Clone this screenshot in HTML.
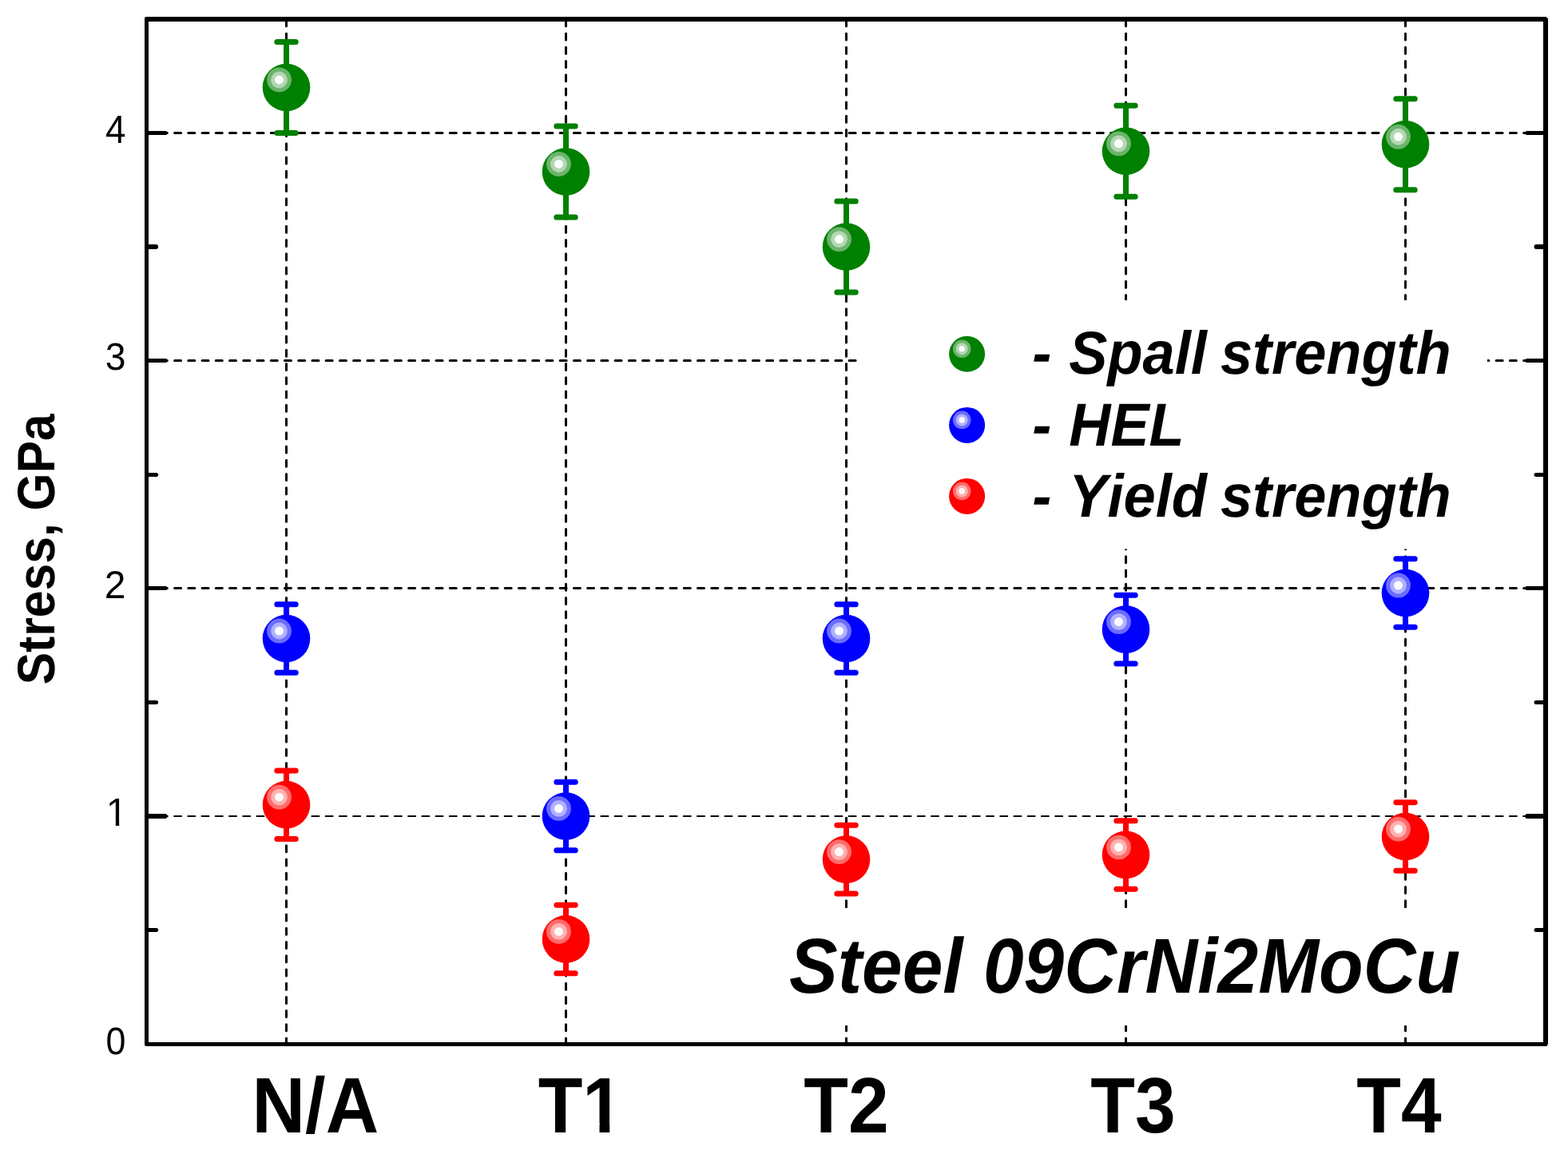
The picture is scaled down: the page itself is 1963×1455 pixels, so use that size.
<!DOCTYPE html>
<html lang="en"><head><meta charset="utf-8"><title>Steel 09CrNi2MoCu - Stress, GPa</title>
<style>html,body{margin:0;padding:0;background:#fff}body{width:1963px;height:1455px;overflow:hidden}svg{display:block}text{font-family:"Liberation Sans",Arial,Helvetica,sans-serif;fill:#000;font-kerning:none;font-feature-settings:"kern" 0,"liga" 0;text-rendering:geometricPrecision}.tk{font-size:49.5px}.yl{font-size:66px;font-weight:700}.cat{font-size:98.5px;font-weight:700}.lg{font-size:76px;font-weight:700;font-style:italic}.st{font-size:97.5px;font-weight:700;font-style:italic}</style></head><body>
<svg width="1963" height="1455" viewBox="0 0 1963 1455">
<rect width="1963" height="1455" fill="#fff"/>
<g stroke="#000" stroke-width="3" stroke-dasharray="8.000 9.235" stroke-linecap="round" fill="none">
<line x1="358.50" y1="24.70" x2="358.50" y2="1307.50"/>
<line x1="708.50" y1="24.70" x2="708.50" y2="1307.50"/>
<line x1="1059.50" y1="24.70" x2="1059.50" y2="1307.50"/>
<line x1="1409.50" y1="24.70" x2="1409.50" y2="1307.50"/>
<line x1="1759.50" y1="24.70" x2="1759.50" y2="1307.50"/>
<line x1="184.10" y1="166.50" x2="1935.00" y2="166.50"/>
<line x1="184.10" y1="451.50" x2="1935.00" y2="451.50"/>
<line x1="184.10" y1="736.50" x2="1935.00" y2="736.50"/>
<line x1="183.60" y1="1022.00" x2="1935.00" y2="1022.00" stroke-width="2" stroke-dasharray="9.000 8.235"/>
</g>
<rect x="1075" y="376" width="787" height="311.5" fill="#fff"/>
<rect x="975" y="1137" width="865" height="147" fill="#fff"/>
<g stroke="#000" stroke-width="5" stroke-linecap="round">
<line x1="185.0" y1="166.50" x2="207.10" y2="166.50"/>
<line x1="1933.5" y1="166.50" x2="1911.70" y2="166.50"/>
<line x1="185.0" y1="451.50" x2="207.10" y2="451.50"/>
<line x1="1933.5" y1="451.50" x2="1911.70" y2="451.50"/>
<line x1="185.0" y1="736.50" x2="207.10" y2="736.50"/>
<line x1="1933.5" y1="736.50" x2="1911.70" y2="736.50"/>
<line x1="185.0" y1="1022.00" x2="206.60" y2="1022.00" stroke-width="6"/>
<line x1="1933.5" y1="1022.00" x2="1912.20" y2="1022.00" stroke-width="6"/>
<line x1="185.0" y1="309.00" x2="195.10" y2="309.00" stroke-width="6"/>
<line x1="1933.5" y1="309.00" x2="1923.50" y2="309.00" stroke-width="6"/>
<line x1="185.0" y1="594.50" x2="195.60" y2="594.50"/>
<line x1="1933.5" y1="594.50" x2="1923.00" y2="594.50"/>
<line x1="185.0" y1="879.50" x2="195.60" y2="879.50"/>
<line x1="1933.5" y1="879.50" x2="1923.00" y2="879.50"/>
<line x1="185.0" y1="1164.50" x2="195.60" y2="1164.50"/>
<line x1="1933.5" y1="1164.50" x2="1923.00" y2="1164.50"/>
</g>
<g shape-rendering="crispEdges" fill="#000"><rect x="181" y="21" width="5" height="1289"/><rect x="1932" y="21" width="6" height="1289"/><rect x="181" y="21" width="1757" height="6"/><rect x="181" y="1305" width="1757" height="5"/><g fill="#fff"><rect x="181" y="21" width="1" height="1"/><rect x="1936" y="21" width="2" height="1"/><rect x="1937" y="22" width="1" height="1"/><rect x="1937" y="1308" width="1" height="2"/><rect x="181" y="1309" width="1" height="1"/></g></g>
<g stroke="#008000" stroke-width="7.0" stroke-linecap="round" fill="none">
<path d="M358.50 52.45V166.51M346.80 52.45H370.20M346.80 166.51H370.20"/>
<path d="M708.50 157.96V272.01M696.80 157.96H720.20M696.80 272.01H720.20"/>
<path d="M1059.50 252.05V366.11M1047.80 252.05H1071.20M1047.80 366.11H1071.20"/>
<path d="M1409.50 132.29V246.35M1397.80 132.29H1421.20M1397.80 246.35H1421.20"/>
<path d="M1759.50 123.74V237.80M1747.80 123.74H1771.20M1747.80 237.80H1771.20"/>
</g>
<g>
<circle cx="358.50" cy="109.48" r="29.80" fill="#008000"/><circle cx="349.50" cy="99.98" r="15.40" fill="#6cb46c"/><circle cx="349.50" cy="99.98" r="10.40" fill="#b2d8b2"/><circle cx="349.50" cy="99.98" r="5.50" fill="#fafdfa"/>
<circle cx="708.50" cy="214.98" r="29.80" fill="#008000"/><circle cx="699.50" cy="205.48" r="15.40" fill="#6cb46c"/><circle cx="699.50" cy="205.48" r="10.40" fill="#b2d8b2"/><circle cx="699.50" cy="205.48" r="5.50" fill="#fafdfa"/>
<circle cx="1059.50" cy="309.08" r="29.80" fill="#008000"/><circle cx="1050.50" cy="299.58" r="15.40" fill="#6cb46c"/><circle cx="1050.50" cy="299.58" r="10.40" fill="#b2d8b2"/><circle cx="1050.50" cy="299.58" r="5.50" fill="#fafdfa"/>
<circle cx="1409.50" cy="189.32" r="29.80" fill="#008000"/><circle cx="1400.50" cy="179.82" r="15.40" fill="#6cb46c"/><circle cx="1400.50" cy="179.82" r="10.40" fill="#b2d8b2"/><circle cx="1400.50" cy="179.82" r="5.50" fill="#fafdfa"/>
<circle cx="1759.50" cy="180.77" r="29.80" fill="#008000"/><circle cx="1750.50" cy="171.27" r="15.40" fill="#6cb46c"/><circle cx="1750.50" cy="171.27" r="10.40" fill="#b2d8b2"/><circle cx="1750.50" cy="171.27" r="5.50" fill="#fafdfa"/>
</g>
<g stroke="#0000ff" stroke-width="7.0" stroke-linecap="round" fill="none">
<path d="M358.50 756.75V842.29M346.80 756.75H370.20M346.80 842.29H370.20"/>
<path d="M708.50 979.16V1064.70M696.80 979.16H720.20M696.80 1064.70H720.20"/>
<path d="M1059.50 756.75V842.29M1047.80 756.75H1071.20M1047.80 842.29H1071.20"/>
<path d="M1409.50 745.34V830.89M1397.80 745.34H1421.20M1397.80 830.89H1421.20"/>
<path d="M1759.50 699.72V785.26M1747.80 699.72H1771.20M1747.80 785.26H1771.20"/>
</g>
<g>
<circle cx="358.50" cy="799.52" r="29.80" fill="#0000ff"/><circle cx="349.50" cy="790.02" r="15.40" fill="#6c6cff"/><circle cx="349.50" cy="790.02" r="10.40" fill="#b0b0ff"/><circle cx="349.50" cy="790.02" r="5.50" fill="#fafaff"/>
<circle cx="708.50" cy="1021.93" r="29.80" fill="#0000ff"/><circle cx="699.50" cy="1012.43" r="15.40" fill="#6c6cff"/><circle cx="699.50" cy="1012.43" r="10.40" fill="#b0b0ff"/><circle cx="699.50" cy="1012.43" r="5.50" fill="#fafaff"/>
<circle cx="1059.50" cy="799.52" r="29.80" fill="#0000ff"/><circle cx="1050.50" cy="790.02" r="15.40" fill="#6c6cff"/><circle cx="1050.50" cy="790.02" r="10.40" fill="#b0b0ff"/><circle cx="1050.50" cy="790.02" r="5.50" fill="#fafaff"/>
<circle cx="1409.50" cy="788.12" r="29.80" fill="#0000ff"/><circle cx="1400.50" cy="778.62" r="15.40" fill="#6c6cff"/><circle cx="1400.50" cy="778.62" r="10.40" fill="#b0b0ff"/><circle cx="1400.50" cy="778.62" r="5.50" fill="#fafaff"/>
<circle cx="1759.50" cy="742.49" r="29.80" fill="#0000ff"/><circle cx="1750.50" cy="732.99" r="15.40" fill="#6c6cff"/><circle cx="1750.50" cy="732.99" r="10.40" fill="#b0b0ff"/><circle cx="1750.50" cy="732.99" r="5.50" fill="#fafaff"/>
</g>
<g stroke="#ff0000" stroke-width="7.0" stroke-linecap="round" fill="none">
<path d="M358.50 964.90V1050.44M346.80 964.90H370.20M346.80 1050.44H370.20"/>
<path d="M708.50 1133.13V1218.68M696.80 1133.13H720.20M696.80 1218.68H720.20"/>
<path d="M1059.50 1033.34V1118.88M1047.80 1033.34H1071.20M1047.80 1118.88H1071.20"/>
<path d="M1409.50 1027.63V1113.17M1397.80 1027.63H1421.20M1397.80 1113.17H1421.20"/>
<path d="M1759.50 1004.82V1090.36M1747.80 1004.82H1771.20M1747.80 1090.36H1771.20"/>
</g>
<g>
<circle cx="358.50" cy="1007.67" r="29.80" fill="#ff0000"/><circle cx="349.50" cy="998.17" r="15.40" fill="#ff6c6c"/><circle cx="349.50" cy="998.17" r="10.40" fill="#ffb0b0"/><circle cx="349.50" cy="998.17" r="5.50" fill="#fffafa"/>
<circle cx="708.50" cy="1175.91" r="29.80" fill="#ff0000"/><circle cx="699.50" cy="1166.41" r="15.40" fill="#ff6c6c"/><circle cx="699.50" cy="1166.41" r="10.40" fill="#ffb0b0"/><circle cx="699.50" cy="1166.41" r="5.50" fill="#fffafa"/>
<circle cx="1059.50" cy="1076.11" r="29.80" fill="#ff0000"/><circle cx="1050.50" cy="1066.61" r="15.40" fill="#ff6c6c"/><circle cx="1050.50" cy="1066.61" r="10.40" fill="#ffb0b0"/><circle cx="1050.50" cy="1066.61" r="5.50" fill="#fffafa"/>
<circle cx="1409.50" cy="1070.40" r="29.80" fill="#ff0000"/><circle cx="1400.50" cy="1060.90" r="15.40" fill="#ff6c6c"/><circle cx="1400.50" cy="1060.90" r="10.40" fill="#ffb0b0"/><circle cx="1400.50" cy="1060.90" r="5.50" fill="#fffafa"/>
<circle cx="1759.50" cy="1047.59" r="29.80" fill="#ff0000"/><circle cx="1750.50" cy="1038.09" r="15.40" fill="#ff6c6c"/><circle cx="1750.50" cy="1038.09" r="10.40" fill="#ffb0b0"/><circle cx="1750.50" cy="1038.09" r="5.50" fill="#fffafa"/>
</g>
<g>
<circle cx="1210.60" cy="443.30" r="22.50" fill="#008000"/><circle cx="1204.20" cy="436.80" r="11.30" fill="#6cb46c"/><circle cx="1204.20" cy="436.80" r="7.50" fill="#b2d8b2"/><circle cx="1204.20" cy="436.80" r="3.80" fill="#fafdfa"/>
<circle cx="1210.60" cy="532.40" r="22.50" fill="#0000ff"/><circle cx="1204.20" cy="525.90" r="11.30" fill="#6c6cff"/><circle cx="1204.20" cy="525.90" r="7.50" fill="#b0b0ff"/><circle cx="1204.20" cy="525.90" r="3.80" fill="#fafaff"/>
<circle cx="1210.60" cy="621.40" r="22.50" fill="#ff0000"/><circle cx="1204.20" cy="614.90" r="11.30" fill="#ff6c6c"/><circle cx="1204.20" cy="614.90" r="7.50" fill="#ffb0b0"/><circle cx="1204.20" cy="614.90" r="3.80" fill="#fffafa"/>
</g>
<text class="tk" transform="translate(157.50 1319.90) scale(0.9050 0.968)" text-anchor="end">0</text>
<text class="tk" transform="translate(159.50 1034.40) scale(0.9700 1)" text-anchor="end">1</text>
<text class="tk" transform="translate(157.50 748.90) scale(0.9700 0.986)" text-anchor="end">2</text>
<text class="tk" transform="translate(157.50 463.45) scale(0.9350 0.972)" text-anchor="end">3</text>
<text class="tk" transform="translate(157.50 178.90) scale(0.9250 1)" text-anchor="end">4</text>
<text class="yl" transform="translate(68.40 857.30) rotate(-90) scale(0.9180 1)">Stress, <tspan dx="-1.2">GPa</tspan></text>
<text class="cat" transform="translate(315.60 1417.80) scale(0.9350 1)">N/A</text>
<text class="cat" transform="translate(673.70 1417.80) scale(0.9250 1)">T1</text>
<text class="cat" transform="translate(1006.30 1417.80) scale(0.9250 1)">T2</text>
<text class="cat" transform="translate(1365.30 1417.80) scale(0.9250 1)">T3</text>
<text class="cat" transform="translate(1698.30 1417.80) scale(0.9250 1)">T4</text>
<text class="lg" transform="translate(1292.30 467.60) scale(0.9500 1)">- <tspan dx="2">Spall</tspan> <tspan dx="-3.2">strength</tspan></text>
<text class="lg" transform="translate(1292.30 557.70) scale(0.9500 1)">- <tspan dx="2">HEL</tspan></text>
<text class="lg" transform="translate(1292.30 646.70) scale(0.9500 1)">- <tspan dx="2">Yield</tspan> <tspan dx="-3.2">strength</tspan></text>
<text class="st" transform="translate(988.00 1242.50) scale(0.9340 1)">Steel 09CrNi2MoCu</text>
<g fill="#fff"><rect x="135.25" y="1029.20" width="9.52" height="6.70"/><rect x="149.21" y="1029.20" width="9.14" height="6.70"/><rect x="733.89" y="1406.25" width="16.63" height="13.05"/><rect x="763.22" y="1406.25" width="15.47" height="13.05"/></g>
</svg></body></html>
